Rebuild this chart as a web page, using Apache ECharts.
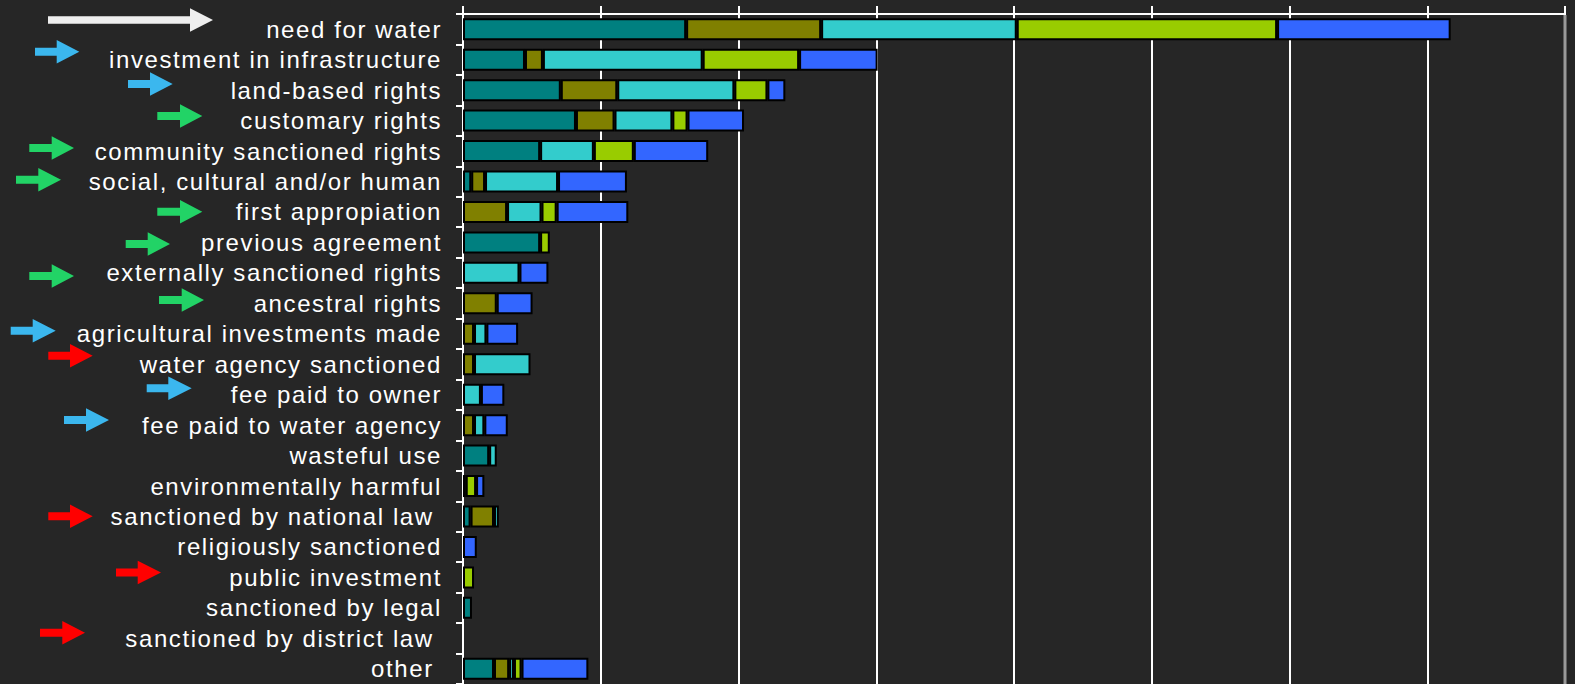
<!DOCTYPE html>
<html>
<head>
<meta charset="utf-8">
<script src="https://cdn.jsdelivr.net/npm/echarts@6/dist/echarts.min.js"></script>
<style>
  html, body { margin: 0; padding: 0; background: #262626; overflow: hidden; }
  #chart { width: 1575px; height: 684px; }
  #chart text { letter-spacing: 1.6px; white-space: pre; }
</style>
</head>
<body>
<div id="chart"></div>
<script>
// ---- data ----
const categories = [
  'need for water', 'investment in infrastructure', 'land-based rights', 'customary rights',
  'community sanctioned rights', 'social, cultural and/or human', 'first appropiation',
  'previous agreement', 'externally sanctioned rights', 'ancestral rights',
  'agricultural investments made', 'water agency sanctioned', 'fee paid to owner',
  'fee paid to water agency', 'wasteful use', 'environmentally harmful',
  'sanctioned by national law ', 'religiously sanctioned', 'public investment',
  'sanctioned by legal', 'sanctioned by district law ', 'other '
];
const tealValues   = [16.2, 4.5, 7.1, 8.2, 5.6, 0.6, 0,   5.6, 0,   0,    0,   0,   0,   0,    1.9,  0.2,  0.55, 0,   0,   0.65, 0, 2.25];
const oliveValues  = [9.8,  1.3, 4.1, 2.8, 0,   1.0, 3.2, 0,   0,   2.45, 0.8, 0.8, 0,   0.8,  0,    0,    1.7,  0,   0,   0,    0, 1.1];
const cyanValues   = [14.2, 11.6,8.5, 4.2, 3.9, 5.3, 2.5, 0,   4.1, 0,    0.9, 4.1, 1.3, 0.75, 0.55, 0,    0.35, 0,   0,   0,    0, 0.35];
const greenValues  = [18.9, 7.0, 2.4, 1.1, 2.9, 0,   1.1, 0.7, 0,   0,    0,   0,   0,   0,    0,    0.75, 0,    0,   0.8, 0,    0, 0.55];
const blueValues   = [12.6, 5.7, 1.3, 4.1, 5.4, 5.0, 5.2, 0,   2.1, 2.6,  2.3, 0,   1.7, 1.7,  0,    0.6,  0,    1.0, 0,   0,    0, 4.85];
const xMin = 0, xMax = 80, xInterval = 10;

// ---- decorations (annotation arrows, pixel placed) ----
const arrowSpecs = [
  [48, 190, 213, 20, '#EEEEEE', 7.5],
  [35, 56.7, 79.3, 51.7, '#3BB7EE', 8],
  [128, 150, 172.7, 84, '#3BB7EE', 8],
  [157.3, 180, 202.3, 116, '#22D366', 8],
  [29.3, 51.7, 74, 148, '#22D366', 8],
  [16, 38.3, 61, 179.7, '#22D366', 8],
  [157.3, 180, 202.3, 211.7, '#22D366', 8],
  [125.7, 147.7, 170, 244, '#22D366', 8],
  [29.3, 51.7, 74, 276, '#22D366', 8],
  [159, 181.7, 204, 300, '#22D366', 8],
  [10.7, 32.7, 55.7, 330.7, '#3BB7EE', 8],
  [48.3, 70, 92.7, 355.8, '#FF0000', 8],
  [146.7, 168.3, 191.7, 388.3, '#3BB7EE', 8],
  [64, 86, 109, 420, '#3BB7EE', 8],
  [48.3, 70, 92.7, 516.3, '#FF0000', 8],
  [116, 137.7, 161, 572.5, '#FF0000', 8],
  [40, 62.3, 85, 632.7, '#FF0000', 8]
];
const arrowGraphics = arrowSpecs.map(([x0, xs, xt, yc, color, sh]) => ({
  type: 'polygon',
  silent: true,
  shape: {
    points: [
      [x0, yc - sh / 2], [xs, yc - sh / 2], [xs, yc - 11.7], [xt, yc],
      [xs, yc + 11.7], [xs, yc + sh / 2], [x0, yc + sh / 2]
    ]
  },
  style: { fill: color }
}));

const seriesDefs = [
  ['teal', tealValues, '#008080'],
  ['olive', oliveValues, '#808000'],
  ['cyan', cyanValues, '#33CCCC'],
  ['green', greenValues, '#99CC00'],
  ['blue', blueValues, '#3366FF']
];

const chart = echarts.init(document.getElementById('chart'), null, { renderer: 'svg' });
chart.setOption({
  backgroundColor: '#262626',
  animation: false,
  grid: { left: 463, right: 10, top: 14, bottom: -1.5, containLabel: false },
  xAxis: {
    type: 'value',
    position: 'top',
    min: xMin, max: xMax, interval: xInterval,
    axisLine: { show: true, lineStyle: { color: '#FFFFFF', width: 2 } },
    axisTick: { show: true, length: 8, lineStyle: { color: '#FFFFFF', width: 2 } },
    axisLabel: { show: false },
    splitLine: {
      show: true,
      showMinLine: true,
      showMaxLine: true,
      lineStyle: { color: '#FFFFFF', width: 2 }
    }
  },
  yAxis: {
    type: 'category',
    inverse: true,
    data: categories,
    axisLine: { show: true, lineStyle: { color: '#FFFFFF', width: 2 } },
    axisTick: { show: true, interval: 0, length: 7, lineStyle: { color: '#FFFFFF', width: 2 } },
    axisLabel: {
      interval: 0,
      color: '#FFFFFF',
      fontSize: 24,
      fontFamily: '"Liberation Sans", Arial, sans-serif',
      margin: 21
    },
    splitLine: { show: false }
  },
  series: seriesDefs.map(([name, vals, color]) => ({
    name,
    type: 'bar',
    stack: 'total',
    barWidth: 22,
    data: vals.map(v => (v === 0 ? '-' : v)),
    itemStyle: { color, borderColor: '#000000', borderWidth: 2 }
  })),
  graphic: arrowGraphics.concat([{
    type: 'rect',
    silent: true,
    z: 100,
    shape: { x: 1563.5, y: 15, width: 3, height: 669 },
    style: { fill: '#999999' }
  }])
});
</script>
</body>
</html>
